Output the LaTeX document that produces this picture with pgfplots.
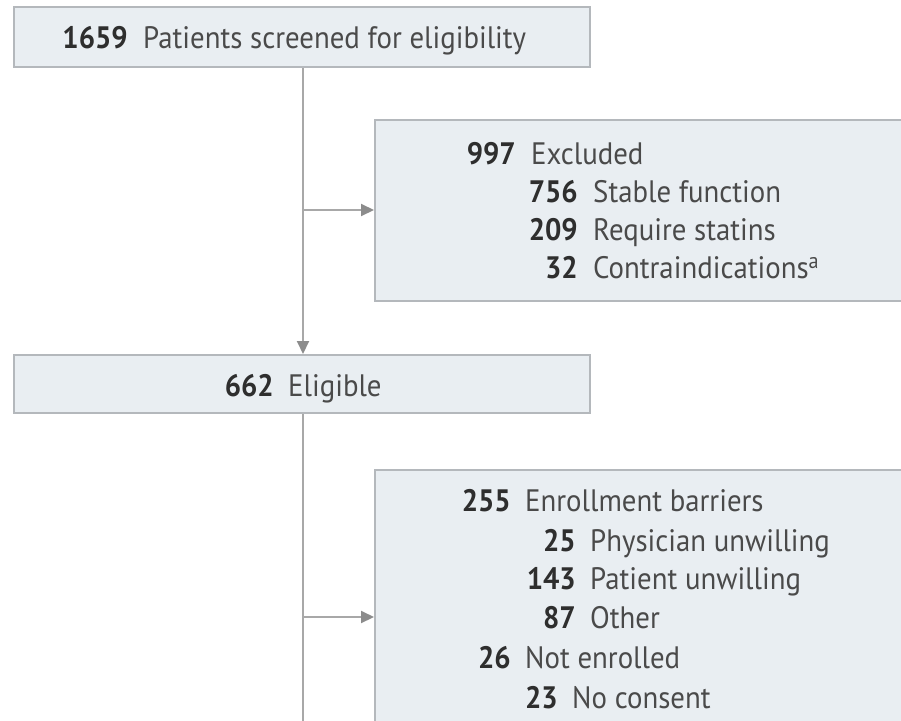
\documentclass[border=0pt]{standalone}
\usepackage{fontspec}
\setmainfont[FakeStretch=0.93]{PT Sans}
\usepackage{pgfplots}
\pgfplotsset{compat=1.18}
\usetikzlibrary{arrows.meta}
\definecolor{boxfill}{HTML}{E9EEF2}
\definecolor{boxline}{HTML}{B4B8BC}
\definecolor{conn}{HTML}{A8A8A8}
\definecolor{arrowc}{HTML}{8C8C8C}
\definecolor{numc}{HTML}{2E2E2E}
\definecolor{txtc}{HTML}{4A4A4A}
\newcommand{\fs}{\fontsize{31}{36}\selectfont}
\begin{document}
\begin{tikzpicture}
\begin{axis}[
  width=901pt, height=720pt, scale only axis,
  xmin=0, xmax=901, ymin=0, ymax=720, y dir=reverse,
  hide axis, clip=true,
]
% boxes
\addplot[fill=boxfill, draw=boxline, line width=2pt] coordinates {(14,7) (590,7) (590,67) (14,67)} -- cycle;
\addplot[fill=boxfill, draw=boxline, line width=2pt] coordinates {(375,120) (910,120) (910,301) (375,301)} -- cycle;
\addplot[fill=boxfill, draw=boxline, line width=2pt] coordinates {(14,355) (590,355) (590,413) (14,413)} -- cycle;
\addplot[fill=boxfill, draw=boxline, line width=2pt] coordinates {(375,470) (910,470) (910,730) (375,730)} -- cycle;
% connectors
\addplot[conn, line width=2pt, -{Triangle[length=13pt,width=12pt,color=arrowc]}] coordinates {(303,68) (303,354)};
\addplot[conn, line width=2pt] coordinates {(303,414) (303,730)};
\addplot[conn, line width=2pt, -{Triangle[length=13pt,width=12pt,color=arrowc]}] coordinates {(304,210) (374,210)};
\addplot[conn, line width=2pt, -{Triangle[length=13pt,width=12pt,color=arrowc]}] coordinates {(304,617) (374,617)};
% texts box 1
\node[anchor=base east, inner sep=0pt, text=numc, font=\fs\bfseries] at (axis cs:128,48) {1659};
\node[anchor=base west, inner sep=0pt, text=txtc, font=\fs] at (axis cs:143,48) {Patients screened for eligibility};
% box 2
\node[anchor=base east, inner sep=0pt, text=numc, font=\fs\bfseries] at (axis cs:516,164) {997};
\node[anchor=base west, inner sep=0pt, text=txtc, font=\fs] at (axis cs:531,164) {Excluded};
\node[anchor=base east, inner sep=0pt, text=numc, font=\fs\bfseries] at (axis cs:578,202) {756};
\node[anchor=base west, inner sep=0pt, text=txtc, font=\fs] at (axis cs:593,202) {Stable function};
\node[anchor=base east, inner sep=0pt, text=numc, font=\fs\bfseries] at (axis cs:578,240) {209};
\node[anchor=base west, inner sep=0pt, text=txtc, font=\fs] at (axis cs:593,240) {Require statins};
\node[anchor=base east, inner sep=0pt, text=numc, font=\fs\bfseries] at (axis cs:578,278) {32};
\node[anchor=base west, inner sep=0pt, text=txtc, font=\fs] at (axis cs:593,278) {Contraindications\textsuperscript{a}};
% box 3
\node[anchor=base east, inner sep=0pt, text=numc, font=\fs\bfseries] at (axis cs:274,396) {662};
\node[anchor=base west, inner sep=0pt, text=txtc, font=\fs] at (axis cs:288,396) {Eligible};
% box 4
\node[anchor=base east, inner sep=0pt, text=numc, font=\fs\bfseries] at (axis cs:511,511) {255};
\node[anchor=base west, inner sep=0pt, text=txtc, font=\fs] at (axis cs:525,511) {Enrollment barriers};
\node[anchor=base east, inner sep=0pt, text=numc, font=\fs\bfseries] at (axis cs:576,551) {25};
\node[anchor=base west, inner sep=0pt, text=txtc, font=\fs] at (axis cs:590,551) {Physician unwilling};
\node[anchor=base east, inner sep=0pt, text=numc, font=\fs\bfseries] at (axis cs:576,589) {143};
\node[anchor=base west, inner sep=0pt, text=txtc, font=\fs] at (axis cs:590,589) {Patient unwilling};
\node[anchor=base east, inner sep=0pt, text=numc, font=\fs\bfseries] at (axis cs:576,628) {87};
\node[anchor=base west, inner sep=0pt, text=txtc, font=\fs] at (axis cs:590,628) {Other};
\node[anchor=base east, inner sep=0pt, text=numc, font=\fs\bfseries] at (axis cs:511,668) {26};
\node[anchor=base west, inner sep=0pt, text=txtc, font=\fs] at (axis cs:525,668) {Not enrolled};
\node[anchor=base east, inner sep=0pt, text=numc, font=\fs\bfseries] at (axis cs:558,708) {23};
\node[anchor=base west, inner sep=0pt, text=txtc, font=\fs] at (axis cs:572,708) {No consent};
\end{axis}
\pgfresetboundingbox
\path[use as bounding box] (current axis.south west) rectangle (current axis.north east);
\end{tikzpicture}
\end{document}
